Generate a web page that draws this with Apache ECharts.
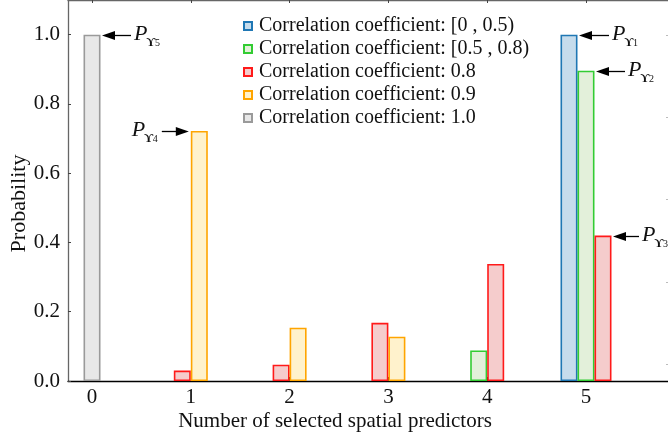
<!DOCTYPE html>
<html>
<head>
<meta charset="utf-8">
<script src="https://cdn.jsdelivr.net/npm/echarts@6/dist/echarts.min.js"></script>
<style>html,body{margin:0;padding:0;background:#fff}#c{width:668px;height:439px}</style>
</head>
<body>
<div id="c"></div>
<script>
// ---- data ----
const categories = [0, 1, 2, 3, 4, 5];
const seriesNames = [
  'Correlation coefficient: [0 , 0.5)',
  'Correlation coefficient: [0.5 , 0.8)',
  'Correlation coefficient: 0.8',
  'Correlation coefficient: 0.9',
  'Correlation coefficient: 1.0'
];
const valsBlue   = [0, 0, 0, 0, 0, 1.0];
const valsGreen  = [0, 0, 0, 0, 0.088, 0.896];
const valsRed    = [0, 0.03, 0.047, 0.168, 0.338, 0.42];
const valsOrange = [0, 0.722, 0.154, 0.128, 0, 0];
const valsGray   = [1.0, 0, 0, 0, 0, 0];
const yTickValues = [0, 0.2, 0.4, 0.6, 0.8, 1.0];
const annotations = [
  {series: 4, cat: 0, side: 'right', sub: '5'},
  {series: 3, cat: 1, side: 'left',  sub: '4'},
  {series: 0, cat: 5, side: 'right', sub: '1'},
  {series: 1, cat: 5, side: 'right', sub: '2'},
  {series: 2, cat: 5, side: 'right', sub: '3'}
];

// ---- style ----
const allVals = [valsBlue, valsGreen, valsRed, valsOrange, valsGray];
const strokes = ['#1f77b4', '#33cc33', '#ff1a1a', '#ffa500', '#9a9a9a'];
const fills   = ['#c6dcec', '#e3f0da', '#f5cccc', '#fff2cc', '#e8e8e8'];
const arrowLens = [29, 27, 30, 29, 26];
const FONT = 'Liberation Serif';
const X_MIN = -0.243, X_MAX = 5.83;
const GRID = {left: 68, right: 0, top: 0, bottom: 58, containLabel: false, outerBoundsMode: 'none'};
const PLOT_W = 668 - GRID.left - GRID.right;
const BAR_PX = 17;
const barW = BAR_PX * (X_MAX - X_MIN) / PLOT_W;

// bar centre offsets: bars present at a category are packed side by side
function barCenter(s, c) {
  const present = [];
  allVals.forEach((v, i) => { if (v[c] > 0) present.push(i); });
  const k = present.indexOf(s);
  return categories[c] + (k - (present.length - 1) / 2) * barW;
}

const series = allVals.map((vals, s) => ({
  name: seriesNames[s],
  type: 'bar',
  barWidth: BAR_PX,
  barGap: '-100%',
  xAxisIndex: 0, yAxisIndex: 0,
  itemStyle: {color: fills[s], borderColor: strokes[s], borderWidth: 1.6},
  emphasis: {disabled: true},
  data: vals.map((v, c) => v > 0 ? [barCenter(s, c), v] : null).filter(d => d)
}));

const chart = echarts.init(document.getElementById('c'));
chart.setOption({
  animation: false,
  backgroundColor: '#fff',
  grid: GRID,
  legend: {
    orient: 'vertical', left: 238, top: 11, itemGap: 3,
    itemWidth: 8, itemHeight: 8, icon: 'rect',
    textStyle: {fontFamily: FONT, fontSize: 20, color: '#111', padding: [0, 0, 0, 2]},
    data: seriesNames
  },
  xAxis: [{
    type: 'value', min: X_MIN, max: X_MAX, position: 'bottom',
    name: 'Number of selected spatial predictors', nameLocation: 'middle', nameGap: 30,
    nameMoveOverlap: false,
    nameTextStyle: {fontFamily: FONT, fontSize: 21, color: '#111', padding: [0, 66, 0, 0]},
    axisLine: {onZero: false, lineStyle: {color: '#000', width: 1.3}},
    axisTick: {inside: true, length: 4, customValues: categories, lineStyle: {color: '#000'}},
    axisLabel: {customValues: categories, fontFamily: FONT, fontSize: 21, color: '#111', margin: 6},
    splitLine: {show: false}
  }, {
    type: 'value', min: X_MIN, max: X_MAX, position: 'top',
    axisLine: {onZero: false, lineStyle: {color: '#666', width: 1.3}},
    axisTick: {inside: true, length: 3, customValues: categories, lineStyle: {color: '#444'}},
    axisLabel: {show: false},
    splitLine: {show: false}
  }],
  yAxis: [{
    type: 'value', min: 0, max: 1.1, position: 'left',
    name: 'Probability', nameLocation: 'middle', nameGap: 38,
    nameMoveOverlap: false,
    nameTextStyle: {fontFamily: FONT, fontSize: 22, color: '#111', padding: [0, 26, 0, 0]},
    axisLine: {show: true, onZero: false, lineStyle: {color: '#666', width: 1.3}},
    axisTick: {inside: true, length: 3, customValues: yTickValues, lineStyle: {color: '#444'}},
    axisLabel: {customValues: yTickValues, fontFamily: FONT, fontSize: 21, color: '#111', margin: 8,
      formatter: v => v.toFixed(1)},
    splitLine: {show: false}
  }, {
    type: 'value', min: -0.2067, max: 4.43, position: 'right',
    axisLine: {show: false, onZero: false},
    axisTick: {show: true, inside: true, length: 2, customValues: [0, 1, 2, 3, 4], lineStyle: {color: '#bbb'}},
    axisLabel: {show: false},
    splitLine: {show: false}
  }],
  series: series
});

// ---- annotation arrows and labels ----
const graphics = [];
annotations.forEach((a, i) => {
  const cx = barCenter(a.series, a.cat);
  const v = allVals[a.series][a.cat];
  const right = chart.convertToPixel({xAxisIndex: 0, yAxisIndex: 0}, [cx + barW / 2, v]);
  const left = chart.convertToPixel({xAxisIndex: 0, yAxisIndex: 0}, [cx - barW / 2, v]);
  const y = Math.round(right[1]) + 0.5;
  const len = arrowLens[i];
  let tip, tail, px, dir;
  if (a.side === 'right') {
    tip = right[0] + 1.5; tail = tip + len; px = tail + 3; dir = 1;
  } else {
    tip = left[0] - 2; tail = tip - len; px = tail - 30; dir = -1;
  }
  graphics.push({type: 'line', shape: {x1: tail, y1: y, x2: tip + dir * 8, y2: y},
    style: {stroke: '#000', lineWidth: 1.3}, silent: true});
  graphics.push({type: 'polygon', shape: {points: [[tip, y], [tip + dir * 13, y - 4.5], [tip + dir * 13, y + 4.5]]},
    style: {fill: '#000'}, silent: true});
  graphics.push({type: 'text', x: px, y: y - 1, silent: true,
    style: {text: 'P', font: 'italic 22px "Liberation Serif"', fill: '#111', verticalAlign: 'middle', align: 'left'}});
  graphics.push({type: 'text', x: px + 12.5, y: y + 7, silent: true,
    style: {text: 'ϒ', font: 'bold 12.5px "Liberation Serif", "DejaVu Serif"', fill: '#111', verticalAlign: 'middle', align: 'left'}});
  graphics.push({type: 'text', x: px + 21, y: y + 8, silent: true,
    style: {text: a.sub, font: '10px "Liberation Serif"', fill: '#111', verticalAlign: 'middle', align: 'left'}});
});
chart.setOption({graphic: graphics});
</script>
</body>
</html>
